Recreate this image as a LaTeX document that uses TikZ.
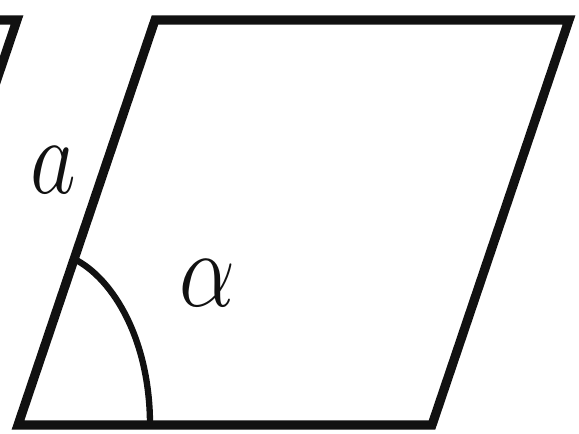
\documentclass[tikz,border=0pt]{standalone}
\usepackage{amsmath,amssymb}
\usepackage{tikz}
\usetikzlibrary{positioning, calc}
\definecolor{pInk}{HTML}{111111}

\begin{document}
\begin{tikzpicture}[rim/.style={draw=pInk, line width=6.5pt, line join=miter},
  anglearc/.style={draw=pInk, line width=4.5pt},
  lbl/.style={text=pInk, inner sep=0pt, font=\Huge, scale=3.1, xscale=0.82}]
  \useasboundingbox (0,0) rectangle (14.475,10.825);
  \clip (0,0) rectangle (14.475,10.825);
  % corners of the parallelogram
  \coordinate (bl) at (0.45,0.2);
  \coordinate (br) at (10.8,0.2);
  \coordinate (tr) at (14.225,10.325);
  \coordinate (tl) at (3.875,10.325);
  \draw[rim] (bl) -- (br) -- (tr) -- (tl) -- cycle;
  % neighbour shape, cut by the border
  \coordinate (nb) at (0.425,10.325);
  \draw[rim] (-0.5,10.325) -- (nb) -- ++(-0.6,-1.775);
  % angle at bl
  \coordinate (arcA) at (3.75,0.2);
  \coordinate (arcB) at ($(bl)!0.41!(tl)$);
  \draw[anglearc] (arcA) .. controls (3.75,2.3) and (2.85,3.85) .. (arcB);
  \node[lbl] (side) at (1.325,6.575) {$a$};
  \node[lbl] (ang) at (5.175,3.75) {$\alpha$};
\end{tikzpicture}
\end{document}
